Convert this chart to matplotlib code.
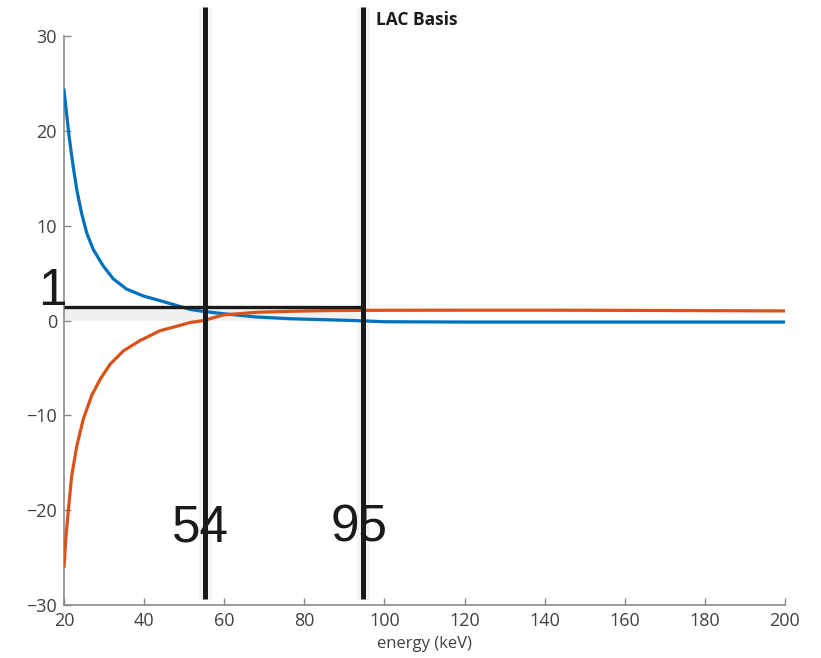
import matplotlib
matplotlib.use('Agg')
import matplotlib.pyplot as plt

# energy grid (keV) and the two basis curves
energy_blue = [20, 20.67, 21.3, 22.2, 23.2, 24.4, 25.7, 27.3, 29.8, 32.3, 35.6, 39.8, 44.0, 48.1, 51.5,
               54.8, 59.8, 68.1, 76.4, 84.7, 93.1, 100, 120, 140, 160, 180, 200]
blue = [24.3, 21.7, 19.3, 16.5, 13.75, 11.3, 9.2, 7.5, 5.76, 4.4, 3.33, 2.6, 2.1, 1.6, 1.18,
        0.97, 0.73, 0.38, 0.2, 0.1, 0.0, -0.12, -0.15, -0.15, -0.15, -0.15, -0.15]

energy_orange = [20, 20.5, 21.1, 21.9, 23.2, 24.8, 26.9, 29.0, 31.5, 34.8, 39.0, 44.0, 48.1, 51.5,
                 54.8, 59.8, 68.1, 76.4, 84.7, 93.1, 100, 120, 140, 160, 180, 200]
orange = [-25.9, -22.7, -19.9, -16.4, -13.2, -10.4, -7.9, -6.2, -4.6, -3.2, -2.1, -1.06, -0.6, -0.2,
          0.0, 0.6, 0.88, 0.98, 1.05, 1.08, 1.09, 1.1, 1.1, 1.08, 1.05, 1.02]

markers_x = [55.2, 94.7]
marker_labels = ['54', '95']
label_x = [54.1, 93.8]
level_y = 1.4

fig = plt.figure(figsize=(8.21, 6.58), dpi=100)
ax = fig.add_axes([0.078, 0.0805, 0.878, 0.8645])

ax.fill_between([20, markers_x[1]], 0, level_y, color='#f0f0f0', lw=0, zorder=0)

# soft shadow behind the marker lines
for x in markers_x:
    ax.plot([x, x], [-29.4, 33.05], color='#f3f3f3', lw=9, clip_on=False, zorder=1, solid_capstyle='butt')

ax.plot(energy_blue, blue, color='#0072BD', lw=2.3, zorder=3)
ax.plot(energy_orange, orange, color='#D95319', lw=2.3, zorder=3)

# thick markers at the two energies, plus the level line
for x in markers_x:
    ax.plot([x, x], [-29.4, 33.05], color='#1a1a1a', lw=3.6, clip_on=False, zorder=5, solid_capstyle='butt')
ax.plot([20, markers_x[1]], [level_y, level_y], color='#1a1a1a', lw=2.4, zorder=5, solid_capstyle='butt')

for x, t in zip(label_x, marker_labels):
    ax.text(x, -21.9, t, fontsize=37, family='Liberation Sans', ha='center', va='center', color='#1a1a1a', zorder=6)
ax.text(17.0, 3.05, '1', fontsize=37, family='Liberation Sans', ha='center', va='center', color='#1a1a1a', clip_on=False, zorder=6)

ax.set_xlim(20, 200)
ax.set_ylim(-30, 30)
ax.set_xticks(range(20, 201, 20))
ax.set_yticks(range(-30, 31, 10))
for s in ['top', 'right']:
    ax.spines[s].set_visible(False)
for s in ['left', 'bottom']:
    ax.spines[s].set_color('#8a8a8a')
    ax.spines[s].set_linewidth(1.2)
ax.tick_params(direction='in', length=5, width=1, color='#8a8a8a', labelcolor='#404040', labelsize=13, pad=5)
for lab in ax.get_xticklabels() + ax.get_yticklabels():
    lab.set_family('Open Sans')

ax.set_xlabel('energy (keV)', fontsize=12, family='Open Sans', color='#404040', labelpad=4)
fig.text(0.458, 0.969, 'LAC Basis', fontsize=12.5, fontweight='bold', family='Open Sans', color='#1a1a1a', ha='left', va='center')

fig.savefig('out.png', dpi=100)
